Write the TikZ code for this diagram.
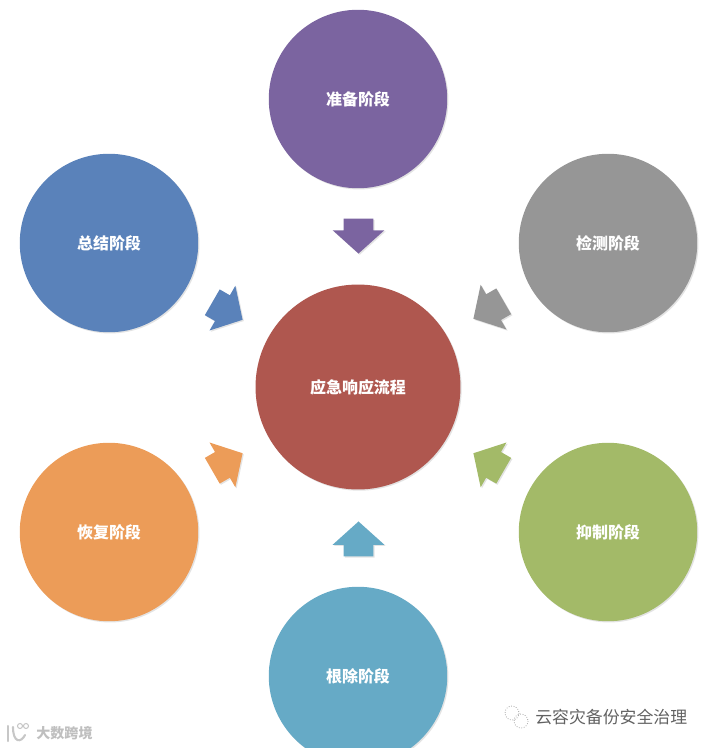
\documentclass[tikz,border=0pt]{standalone}
\usepackage{fontspec}
\usetikzlibrary{shapes.arrows,shadows}
\setmainfont{Noto Sans CJK SC}
\definecolor{stagepurple}{HTML}{7B64A0}
\definecolor{stageblue}{HTML}{5A82BA}
\definecolor{stagegray}{HTML}{969696}
\definecolor{stageorange}{HTML}{EC9C58}
\definecolor{stagegreen}{HTML}{A3BA68}
\definecolor{stageteal}{HTML}{66AAC6}
\definecolor{stagered}{HTML}{AF574F}
\tikzset{
  softshadow/.style={drop shadow={shadow xshift=0.7pt,shadow yshift=-0.7pt,opacity=0.18,fill=black!60}},
  stagenode/.style={circle,minimum size=3.57cm,inner sep=0pt,softshadow,text=white,font=\fontsize{9.1}{11}\selectfont\bfseries},
  hubnode/.style={stagenode,minimum size=4.1cm},
  blockarrow/.style={single arrow,anchor=tip,minimum height=0.7cm,minimum width=1.02cm,text height=0.58cm,text depth=0pt,
    single arrow head extend=0.22cm,single arrow tip angle=96,inner sep=0pt,softshadow},
  markrighttext/.style={text=black!62,font=\fontsize{9.6}{11}\selectfont},
  marklefttext/.style={text=black!25,font=\fontsize{8}{10}\selectfont\bfseries}
}
\begin{document}
\begin{tikzpicture}[x=0.02cm,y=-0.02cm]
  \useasboundingbox (0,0) rectangle (710,748);
  \begin{scope}
    \clip (0,0) rectangle (710,748);
    \node[hubnode,fill=stagered] (hub) at (358,387) {应急响应流程};
    \node[stagenode,fill=stagepurple] (prepare) at (358,99) {准备阶段};
    \node[stagenode,fill=stagegray] (detect) at (608,243) {检测阶段};
    \node[stagenode,fill=stagegreen] (contain) at (608,532) {抑制阶段};
    \node[stagenode,fill=stageteal] (eradicate) at (358,676) {根除阶段};
    \node[stagenode,fill=stageorange] (recover) at (109,532) {恢复阶段};
    \node[stagenode,fill=stageblue] (review) at (109,243) {总结阶段};
  \end{scope}
  \node[blockarrow,fill=stagepurple,rotate=-90] (prepareto) at (358.5,254) {};
  \node[blockarrow,fill=stagegray,rotate=210] (detectto) at (473,319) {};
  \node[blockarrow,fill=stagegreen,rotate=150] (containto) at (473,453) {};
  \node[blockarrow,fill=stageteal,rotate=90] (eradicateto) at (358.5,521) {};
  \node[blockarrow,fill=stageorange,rotate=30] (recoverto) at (243,453) {};
  \node[blockarrow,fill=stageblue,rotate=-30] (reviewto) at (243,320) {};
  % marks along the bottom
  \node[markrighttext,anchor=west,inner sep=0pt] (markright) at (535,717) {云容灾备份安全治理};
  \node[marklefttext,anchor=west,inner sep=0pt] (markleft) at (36,733) {大数跨境};
  \draw[black!45,densely dotted,line width=0.4pt] (512,713) circle (7);
  \draw[black!45,densely dotted,line width=0.4pt] (521,721) circle (7);
  \draw[black!22,line width=1.2pt,line cap=round] (8,726)--(8,741);
  \draw[black!22,line width=1.2pt,line cap=round] (13,727) .. controls (13,743) and (21,743) .. (25,735);
  \draw[black!22,line width=0.6pt] (20,726) circle (2.5) (26,726) circle (2.5);
\end{tikzpicture}
\end{document}
